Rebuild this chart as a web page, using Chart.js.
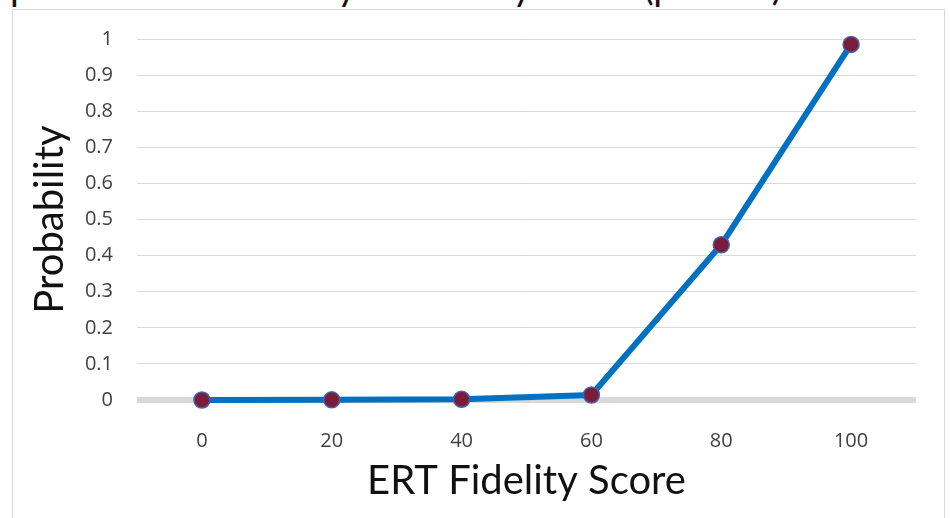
<!DOCTYPE html>
<html>
<head>
<meta charset="utf-8">
<script src="https://cdn.jsdelivr.net/npm/chart.js@4/dist/chart.umd.min.js"></script>
<style>
  html, body { margin: 0; padding: 0; background: #fff; overflow: hidden; }
  #wrap { position: relative; width: 950px; height: 518px; }
  #frame {
    position: absolute; left: 12px; top: 9px; width: 933px; height: 530px;
    border: 1.5px solid #d9d9d9; box-sizing: border-box;
  }
  #title {
    position: absolute; left: 10px; top: -34px; white-space: nowrap;
    font: 38px Lato, sans-serif; line-height: 1; color: #111;
  }
  #chart { position: absolute; left: 0; top: 0; }
</style>
</head>
<body>
<div id="wrap">
  <div id="frame"></div>
  <div id="title">predicted Probability of Fidelity Score (p&lt;.001)</div>
  <canvas id="chart" width="950" height="518"></canvas>
</div>
<script>
// data
const scores = ['0', '20', '40', '60', '80', '100'];
const probability = [0, 0.0005, 0.002, 0.014, 0.43, 0.985];
const yTicks = [0, 0.1, 0.2, 0.3, 0.4, 0.5, 0.6, 0.7, 0.8, 0.9, 1];

const tickFont = { family: '"Open Sans", sans-serif', size: 20 };
const titleFont = { family: 'Lato, sans-serif', size: 40 };

new Chart(document.getElementById('chart').getContext('2d'), {
  type: 'line',
  data: {
    labels: scores,
    datasets: [{
      data: probability,
      borderColor: '#0070c0',
      borderWidth: 6,
      tension: 0,
      pointRadius: 8,
      pointBackgroundColor: '#7b1c38',
      pointBorderColor: '#4662b0',
      pointBorderWidth: 1.5,
      clip: false
    }]
  },
  options: {
    responsive: false,
    animation: false,
    layout: { padding: { left: 12, top: 39, right: 34, bottom: 0 } },
    plugins: { legend: { display: false }, tooltip: { enabled: false } },
    scales: {
      x: {
        offset: true,
        grid: { display: false },
        border: { display: false },
        ticks: { color: '#404040', font: tickFont, padding: 21 },
        title: {
          display: true, text: 'ERT Fidelity Score', color: '#111',
          font: titleFont, padding: { top: 0, bottom: 13 }
        },
        afterFit: (s) => { s.height = 118; }
      },
      y: {
        min: 0, max: 1,
        afterBuildTicks: (s) => { s.ticks = yTicks.map(v => ({ value: v })); },
        grid: {
          drawTicks: false,
          color: '#d9d9d9',
          lineWidth: (ctx) => (ctx.tick && ctx.tick.value === 0 ? 6 : 1)
        },
        border: { display: false },
        ticks: {
          color: '#404040', font: tickFont, padding: 24,
          callback: (v) => String(v)
        },
        title: {
          display: true, text: 'Probability', color: '#111',
          font: titleFont, padding: { top: 14, bottom: 0 }
        },
        afterFit: (s) => { s.width = 125; }
      }
    }
  }
});
</script>
</body>
</html>
